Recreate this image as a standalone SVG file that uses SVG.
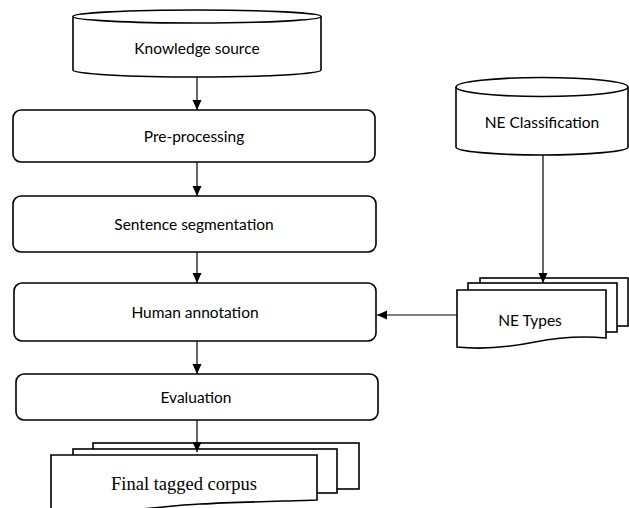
<svg xmlns="http://www.w3.org/2000/svg" width="629" height="508" viewBox="0 0 629 508">
<defs>
<style>
.shape{fill:#fff;stroke:#000;stroke-width:1.6}
.lbl{font-family:Lato,"Open Sans","DejaVu Sans",sans-serif;font-size:15.5px;fill:#000;text-anchor:middle}
.serif{font-family:"Liberation Serif","Times New Roman",serif;font-size:18.5px;fill:#000;text-anchor:middle}
.conn{fill:none;stroke:#000;stroke-width:1.2}
</style>
<marker id="ah" markerUnits="userSpaceOnUse" markerWidth="10" markerHeight="10" viewBox="0 0 10 10" refX="10" refY="5" orient="auto">
<path d="M0,0.5 L10,5 L0,9.5 Z" fill="#000"/>
</marker>
</defs>
<rect width="629" height="508" fill="#fff"/>

<g id="knowledge-source">
<path class="shape" d="M73,16.5 L73,70 A124,7 0 0 0 321,70 L321,16.5"/>
<ellipse class="shape" cx="197" cy="16.5" rx="124" ry="6.5"/>
<text class="lbl" x="197" y="54">Knowledge source</text>
</g>

<g id="pre-processing">
<rect class="shape" x="13" y="110" width="362" height="52" rx="8"/>
<text class="lbl" x="194" y="142">Pre-processing</text>
</g>

<g id="sentence-segmentation">
<rect class="shape" x="13" y="196" width="363" height="56" rx="8"/>
<text class="lbl" x="194" y="230">Sentence segmentation</text>
</g>

<g id="human-annotation">
<rect class="shape" x="14" y="283" width="362" height="58" rx="8"/>
<text class="lbl" x="195" y="318">Human annotation</text>
</g>

<g id="evaluation">
<rect class="shape" x="16" y="374" width="362" height="46" rx="8"/>
<text class="lbl" x="196" y="403">Evaluation</text>
</g>

<g id="final-tagged-corpus">
<rect class="shape" x="93" y="443" width="266" height="46"/>
<rect class="shape" x="73" y="449" width="264" height="44"/>
<path class="shape" d="M51,455 H317 V500 C290,501 240,502 200,504 C160,506 120,514 51,512 Z"/>
<text class="serif" x="184" y="490">Final tagged corpus</text>
</g>

<g id="ne-classification">
<path class="shape" d="M456,87 L456,147 A86,8 0 0 0 628,147 L628,87"/>
<ellipse class="shape" cx="542" cy="87" rx="86" ry="9.5"/>
<text class="lbl" x="542" y="128">NE Classification</text>
</g>

<g id="ne-types">
<rect class="shape" x="480" y="278" width="148" height="48"/>
<rect class="shape" x="468" y="283" width="149" height="49"/>
<path class="shape" d="M457,290 H606 V338 C585,336 560,337 535,342 C510,347 485,350 457,347 Z"/>
<text class="lbl" x="530" y="326">NE Types</text>
</g>

<g id="connectors">
<line class="conn" x1="197" y1="77" x2="197" y2="110" marker-end="url(#ah)"/>
<line class="conn" x1="197" y1="162" x2="197" y2="196" marker-end="url(#ah)"/>
<line class="conn" x1="197" y1="252" x2="197" y2="283" marker-end="url(#ah)"/>
<line class="conn" x1="197" y1="341" x2="197" y2="374" marker-end="url(#ah)"/>
<line class="conn" x1="197" y1="420" x2="197" y2="452" marker-end="url(#ah)"/>
<line class="conn" x1="543" y1="155" x2="543" y2="283" marker-end="url(#ah)"/>
<line class="conn" x1="457" y1="315" x2="377" y2="315" marker-end="url(#ah)"/>
</g>
</svg>
